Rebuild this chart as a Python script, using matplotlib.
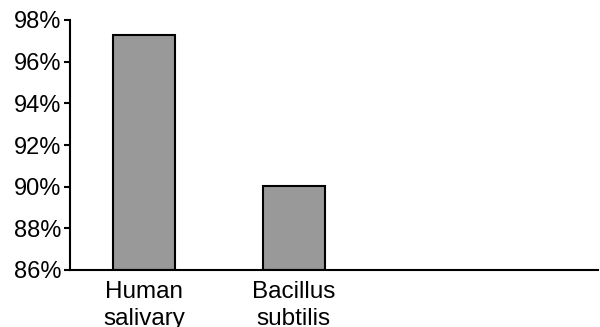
import matplotlib.pyplot as plt
from matplotlib.ticker import FuncFormatter

plt.rcParams['font.family'] = ['Liberation Sans', 'DejaVu Sans']

categories = ['Human\nsalivary', 'Bacillus\nsubtilis']
values = [97.27, 90.05]
yticks = [86, 88, 90, 92, 94, 96, 98]

fig = plt.figure(figsize=(6, 3.27), dpi=100)
ax = fig.add_axes([70 / 600, 57 / 327, 528 / 600, 250 / 327])

x = list(range(len(categories)))
ax.bar(x, [v - 86 for v in values], bottom=86, width=0.413,
       color='#999999', edgecolor='black', linewidth=1.5)

ax.set_ylim(86, 98)
ax.set_xlim(-0.493, 3.03)
ax.set_yticks(yticks)
ax.yaxis.set_major_formatter(FuncFormatter(lambda v, p: f'{v:.0f}%'))
ax.set_xticks(x)
ax.set_xticklabels(categories, linespacing=1.3)

for s in ['top', 'right']:
    ax.spines[s].set_visible(False)
for s in ['left', 'bottom']:
    ax.spines[s].set_linewidth(1.5)

ax.tick_params(axis='y', length=4, width=1.5, pad=2, labelsize=17)
ax.tick_params(axis='x', length=0, pad=8, labelsize=17.5)

fig.savefig('out.png', dpi=100)
